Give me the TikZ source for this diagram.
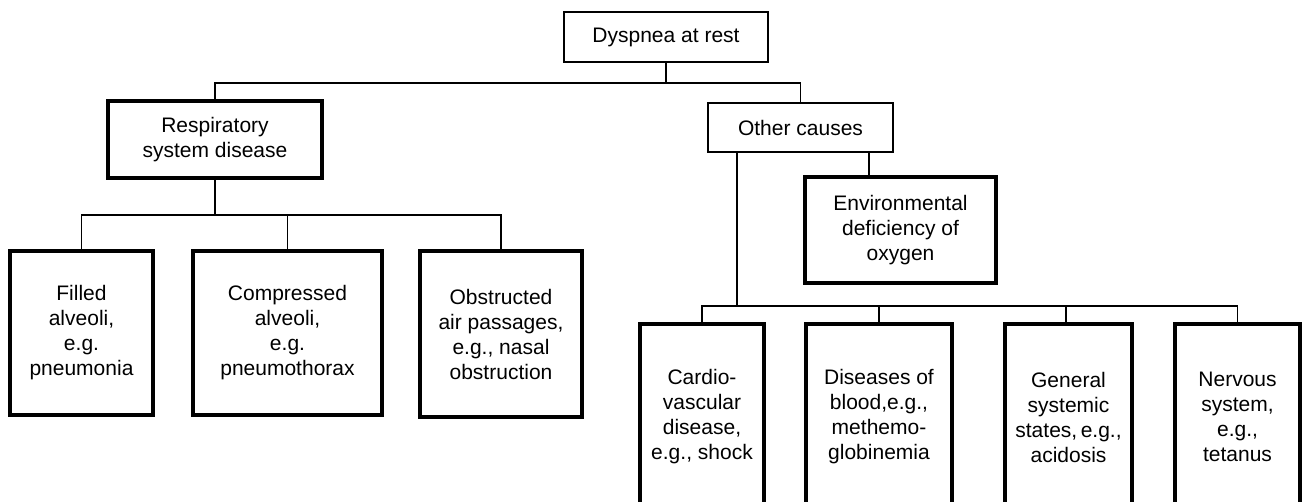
\documentclass[tikz,border=0pt]{standalone}
\usepackage{fontspec}
\setmainfont{Liberation Sans}
\begin{document}
\begin{tikzpicture}[x=1pt,y=-1pt,
  txt/.style={font=\fontsize{21}{25}\selectfont, align=center, inner sep=0pt, outer sep=0pt},
  thinbox/.style={txt, draw, line width=2pt},
  thickbox/.style={txt, draw, line width=3.3pt},
  conn/.style={line width=1.5pt}]
\path[use as bounding box] (0,0) rectangle (1303,501);
\clip (0,0) rectangle (1303,501);
\fill[white] (0,0) rectangle (1303,501);
% nodes
\node[thinbox, minimum width=204pt, minimum height=50pt] (top) at (666,37) {Dyspnea at rest};
\node[thickbox, minimum width=214pt, minimum height=77pt] (resp) at (215,139.5) {Respiratory\\system disease};
\node[thinbox, minimum width=185pt, minimum height=49pt] (other) at (800.5,127.5) {Other causes};
\node[thickbox, minimum width=191pt, minimum height=106pt] (env) at (900.5,230) {Environmental\\deficiency of\\oxygen};
\node[thickbox, minimum width=143pt, minimum height=164pt] (filled) at (81.5,333) {Filled\\alveoli,\\e.g.\\pneumonia};
\node[thickbox, minimum width=189pt, minimum height=164pt] (compr) at (287.5,333) {Compressed\\alveoli,\\e.g.\\pneumothorax};
\node[thickbox, minimum width=162pt, minimum height=166pt] (obstr) at (501,334) {Obstructed\\air passages,\\e.g., nasal\\obstruction};
\node[thickbox, minimum width=124pt, minimum height=186pt] (cardio) at (702,417) {Cardio-\\vascular\\disease,\\e.g., shock};
\node[thickbox, minimum width=146pt, minimum height=186pt] (dis) at (879,417) {Diseases of\\blood,e.g.,\\methemo-\\globinemia};
\node[thickbox, minimum width=127pt, minimum height=186pt] (gen) at (1068.5,417) {General\\systemic\\states,\,e.g.,\\acidosis};
\node[thickbox, minimum width=125pt, minimum height=186pt] (nerv) at (1237.5,417) {Nervous\\system,\\e.g.,\\tetanus};
% connectors
\draw[conn] (top.south) -- ++(0,21);
\draw[conn] (resp.north) -- ++(0,-18) -| (other.north);
\draw[conn] (resp.south) -- ++(0,37);
\draw[conn] (filled.north) -- ++(0,-36) -| (obstr.north);
\draw[conn] (compr.north) -- ++(0,-36);
\draw[conn] ([xshift=68.5pt]other.south) -- ([xshift=-31.5pt]env.north);
\draw[conn] ([xshift=-63.5pt]other.south) -- ++(0,154);
\draw[conn] (cardio.north) -- ++(0,-18) -| (nerv.north);
\draw[conn] (dis.north) -- ++(0,-18);
\draw[conn] ([xshift=-2.5pt]gen.north) -- ++(0,-18);
\end{tikzpicture}
\end{document}
